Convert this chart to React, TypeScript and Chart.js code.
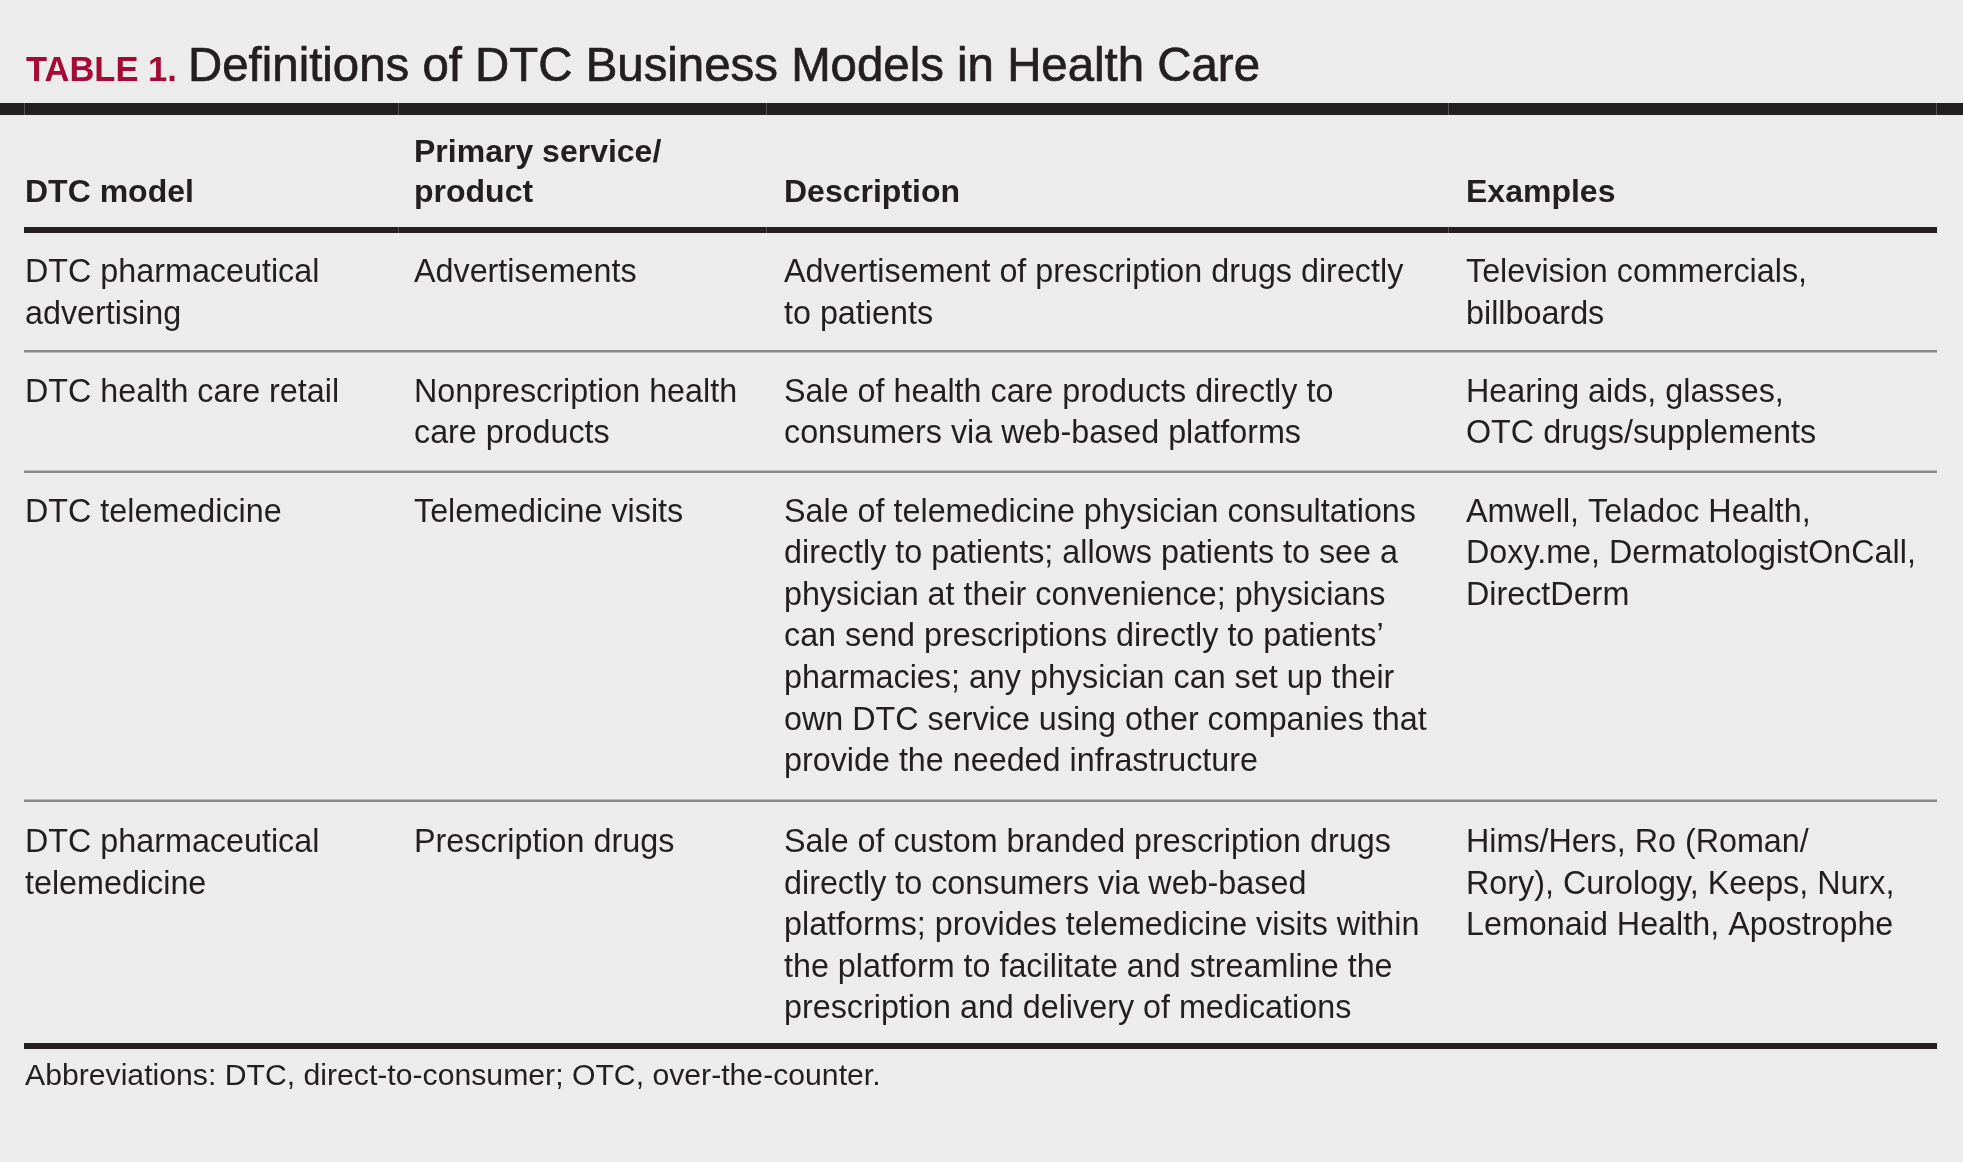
import React, { useEffect, useRef } from "react";
import { Chart, registerables } from "chart.js";

Chart.register(...registerables);

// ---- Content ----
const titleLabel = "TABLE 1.";
const titleText = "Definitions of DTC Business Models in Health Care";

const columnHeaders: string[][] = [
  ["DTC model"],
  ["Primary service/", "product"],
  ["Description"],
  ["Examples"],
];

const dtcModels: string[][] = [
  ["DTC pharmaceutical", "advertising"],
  ["DTC health care retail"],
  ["DTC telemedicine"],
  ["DTC pharmaceutical", "telemedicine"],
];

const primaryProducts: string[][] = [
  ["Advertisements"],
  ["Nonprescription health", "care products"],
  ["Telemedicine visits"],
  ["Prescription drugs"],
];

const descriptions: string[][] = [
  ["Advertisement of prescription drugs directly", "to patients"],
  ["Sale of health care products directly to", "consumers via web-based platforms"],
  [
    "Sale of telemedicine physician consultations",
    "directly to patients; allows patients to see a",
    "physician at their convenience; physicians",
    "can send prescriptions directly to patients\u2019",
    "pharmacies; any physician can set up their",
    "own DTC service using other companies that",
    "provide the needed infrastructure",
  ],
  [
    "Sale of custom branded prescription drugs",
    "directly to consumers via web-based",
    "platforms; provides telemedicine visits within",
    "the platform to facilitate and streamline the",
    "prescription and delivery of medications",
  ],
];

const examples: string[][] = [
  ["Television commercials,", "billboards"],
  ["Hearing aids, glasses,", "OTC drugs/supplements"],
  ["Amwell, Teladoc Health,", "Doxy.me, DermatologistOnCall,", "DirectDerm"],
  ["Hims/Hers, Ro (Roman/", "Rory), Curology, Keeps, Nurx,", "Lemonaid Health, Apostrophe"],
];

const footnote = "Abbreviations: DTC, direct-to-consumer; OTC, over-the-counter.";

// ---- Layout (page units, mapped through the chart's scales) ----
const W = 1963;
const H = 1162;
const colX = [25, 414, 784, 1466];
const colBreaks = [24, 398, 766, 1448, 1936];
const tableLeft = 24;
const tableRight = 1937;
const rowFirstBaseline = [282, 401.5, 521.5, 852];
const lineH = 41.6;
const headerBaselines = [162, 202];
const rowRules = [350, 470.5, 799.5];

const BG = "#ececec";
const INK = "#231f20";
const RED = "#a50a37";
const RULE = "#8a8a8a";
const FONT = "'Liberation Sans', Arial, Helvetica, sans-serif";

const tablePlugin = {
  id: "tableDraw",
  beforeDraw(chart: any) {
    const ctx = chart.ctx;
    ctx.save();
    ctx.fillStyle = BG;
    ctx.fillRect(0, 0, chart.width, chart.height);
    ctx.restore();
  },
  afterDraw(chart: any) {
    const ctx: CanvasRenderingContext2D = chart.ctx;
    const xs = chart.scales.x;
    const ys = chart.scales.y;
    const X = (v: number) => xs.getPixelForValue(v);
    const Y = (v: number) => ys.getPixelForValue(v);

    const bar = (x0: number, x1: number, y0: number, y1: number, color: string) => {
      ctx.fillStyle = color;
      ctx.fillRect(X(x0), Y(y0), X(x1) - X(x0), Y(y1) - Y(y0));
    };
    const seps = (y0: number, y1: number, list: number[], color: string) => {
      ctx.fillStyle = color;
      list.forEach((bx) => ctx.fillRect(X(bx), Y(y0), 1, Y(y1) - Y(y0)));
    };

    ctx.save();
    ctx.textBaseline = "alphabetic";
    ctx.textAlign = "left";

    // Title
    ctx.fillStyle = RED;
    ctx.font = `bold 34.5px ${FONT}`;
    ctx.fillText(titleLabel, X(26), Y(80.5));
    ctx.fillStyle = INK;
    ctx.strokeStyle = INK;
    ctx.lineWidth = 0.7;
    ctx.font = `47.4px ${FONT}`;
    ctx.fillText(titleText, X(188), Y(81));
    ctx.strokeText(titleText, X(188), Y(81));

    // Top thick bar
    bar(0, W, 103, 115, INK);
    seps(103, 115, colBreaks, "#55514f");

    // Header
    ctx.fillStyle = INK;
    ctx.font = `bold 32px ${FONT}`;
    columnHeaders.forEach((lines, c) => {
      const start = headerBaselines.length - lines.length;
      lines.forEach((t, i) => ctx.fillText(t, X(colX[c]), Y(headerBaselines[start + i])));
    });

    // Header bottom bar
    bar(tableLeft, tableRight, 227, 233, INK);
    seps(227, 233, colBreaks.slice(1, 4), "#55514f");

    // Body rows
    ctx.font = `32.3px ${FONT}`;
    ctx.fillStyle = INK;
    const columns = [dtcModels, primaryProducts, descriptions, examples];
    columns.forEach((col, c) => {
      col.forEach((lines, r) => {
        lines.forEach((t, i) => {
          ctx.fillText(t, X(colX[c]), Y(rowFirstBaseline[r] + i * lineH));
        });
      });
    });

    // Row rules
    rowRules.forEach((ry) => bar(tableLeft, tableRight, ry, ry + 2.5, RULE));

    // Bottom bar
    bar(tableLeft, tableRight, 1043, 1049, INK);

    // Footnote
    ctx.fillStyle = INK;
    ctx.font = `30.2px ${FONT}`;
    ctx.fillText(footnote, X(25), Y(1085));

    ctx.restore();
  },
};

export default function App() {
  const canvasRef = useRef<HTMLCanvasElement | null>(null);

  useEffect(() => {
    document.body.style.margin = "0";
    document.body.style.background = BG;
    const canvas = canvasRef.current;
    if (!canvas) return;
    const chart = new Chart(canvas, {
      type: "scatter",
      data: { datasets: [{ data: [], showLine: false }] },
      options: {
        animation: false,
        responsive: true,
        maintainAspectRatio: false,
        devicePixelRatio: 1,
        layout: { padding: 0 },
        events: [],
        plugins: { legend: { display: false }, tooltip: { enabled: false }, title: { display: false } },
        scales: {
          x: { type: "linear", min: 0, max: W, display: false },
          y: { type: "linear", min: 0, max: H, reverse: true, display: false },
        },
      },
      plugins: [tablePlugin],
    });
    return () => chart.destroy();
  }, []);

  return (
    <div style={{ width: W, height: H, position: "relative", background: BG }}>
      <canvas ref={canvasRef} />
    </div>
  );
}
